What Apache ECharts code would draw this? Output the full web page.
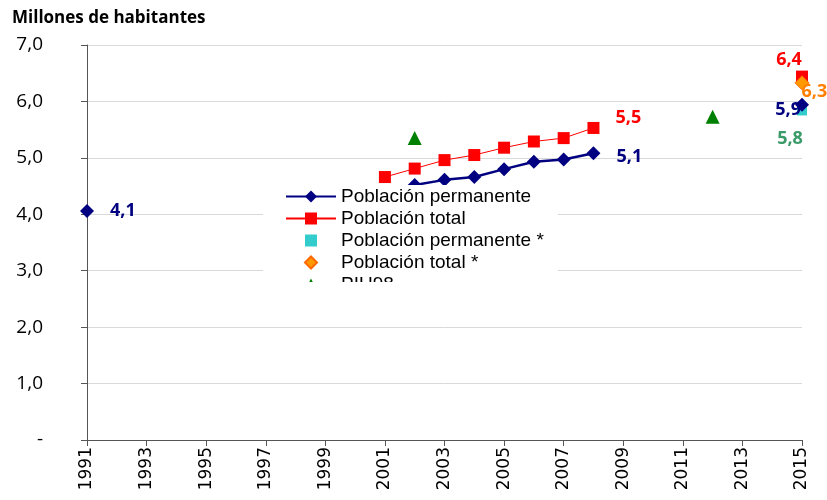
<!DOCTYPE html>
<html>
<head>
<meta charset="utf-8">
<script src="https://cdn.jsdelivr.net/npm/echarts@6/dist/echarts.min.js"></script>
<style>
  html, body { margin: 0; padding: 0; background: #fff; }
  #box { width: 827px; height: 500px; }
</style>
</head>
<body>
<div id="box"></div>
<script>
// años del eje X
const years = []
for (let y = 1991; y <= 2015; y++) years.push(String(y))

// valores (millones), null = sin dato
const permanente = [4.06, null, null, null, null, null, null, null, null, null, null,
  4.52, 4.61, 4.66, 4.80, 4.93, 4.97, 5.08, null, null, null, null, null, null, 5.94]
const total = [null, null, null, null, null, null, null, null, null, null, 4.66,
  4.81, 4.96, 5.05, 5.18, 5.29, 5.35, 5.53, null, null, null, null, null, null, 6.44]
const permanenteEst = [null, null, null, null, null, null, null, null, null, null, null,
  null, null, null, null, null, null, null, null, null, null, null, null, null, 5.84]
const totalEst = [null, null, null, null, null, null, null, null, null, null, null,
  null, null, null, null, null, null, null, null, null, null, null, null, null, 6.33]
const piu = [null, null, null, null, null, null, null, null, null, null, null,
  5.35, null, null, null, null, null, null, null, null, null, 5.73, null, null, null]

const yTicks = [0, 1, 2, 3, 4, 5, 6, 7]

const fmt = v => (Math.floor(v * 10 + 0.5) / 10).toFixed(1).replace('.', ',')
const lblFont = { fontFamily: 'Open Sans', fontWeight: 'bold', fontSize: 18 }

// etiquetas en puntos concretos
const withLabels = (arr, labels, color) => arr.map((v, i) => {
  if (v === null) return null
  const l = labels[i]
  if (!l) return v
  return { value: v, label: Object.assign({ show: true, color: color, formatter: fmt(v) }, lblFont, l) }
})

const myChart = echarts.init(document.getElementById('box'))

const option = {
  animation: false,
  title: {
    text: 'Millones de habitantes',
    left: 7, top: 5,
    textStyle: { fontFamily: 'Open Sans', fontWeight: 'bold', fontSize: 17, color: '#000' }
  },
  grid: { left: 87, right: 25, top: 45, bottom: 60 },
  legend: {
    orient: 'vertical',
    left: 263, top: 185,
    padding: [2, 14, 12, 22],
    itemGap: 3,
    itemWidth: 50, itemHeight: 15,
    backgroundColor: '#fff',
    textStyle: { fontFamily: 'Liberation Sans', fontSize: 19, color: '#000' },
    data: ['Población permanente', 'Población total', 'Población permanente *', 'Población total *', 'PIU98']
  },
  xAxis: {
    type: 'category',
    data: years,
    boundaryGap: false,
    axisLine: { lineStyle: { color: '#555' } },
    axisTick: { interval: 1, length: 6, lineStyle: { color: '#555' } },
    axisLabel: { interval: 1, rotate: 90, margin: 7, color: '#000', fontFamily: 'DejaVu Sans', fontSize: 17 },
    splitLine: { show: false }
  },
  yAxis: {
    type: 'value',
    min: yTicks[0], max: yTicks[yTicks.length - 1], interval: 1,
    axisLine: { show: true, lineStyle: { color: '#555' } },
    axisTick: { show: true, length: 6, lineStyle: { color: '#555' } },
    axisLabel: {
      margin: 44, color: '#000', fontFamily: 'Open Sans', fontSize: 19, align: 'right',
      formatter: v => v === 0 ? '-' : fmt(v)
    },
    splitLine: { lineStyle: { color: '#d9d9d9' } }
  },
  series: [
    {
      name: 'Población permanente', type: 'line',
      data: withLabels(permanente, {
        0: { position: 'right', distance: 16 },
        17: { position: 'right', distance: 16, offset: [0, 4] },
        24: { position: 'left', distance: -6, offset: [0, 5] }
      }, '#000080'),
      symbol: 'diamond', symbolSize: 14,
      itemStyle: { color: '#000080' },
      lineStyle: { color: '#000080', width: 2.5 },
      z: 3
    },
    {
      name: 'Población total', type: 'line',
      data: withLabels(total, {
        10: { position: 'bottom', distance: 2, offset: [-4, 0] },
        17: { position: 'right', distance: 16, offset: [0, -10] },
        24: { position: 'top', distance: 4, offset: [-13, 2] }
      }, '#ff0000'),
      symbol: 'rect', symbolSize: 12,
      itemStyle: { color: '#ff0000' },
      lineStyle: { color: '#ff0000', width: 1 },
      z: 2
    },
    {
      name: 'Población permanente *', type: 'line',
      data: withLabels(permanenteEst, {
        24: { position: 'bottom', distance: 14, offset: [-12, 0], color: '#3a9a68' }
      }, '#3a9a68'),
      symbol: 'rect', symbolSize: 10,
      itemStyle: { color: '#33cccc' },
      lineStyle: { width: 0 },
      z: 2
    },
    {
      name: 'Población total *', type: 'line',
      data: withLabels(totalEst, {
        24: { position: 'right', distance: -8, offset: [0, 9] }
      }, '#ff8000'),
      symbol: 'diamond', symbolSize: 14,
      itemStyle: { color: '#ff9900', borderColor: '#ff6600', borderWidth: 1 },
      lineStyle: { width: 0 },
      z: 4
    },
    {
      name: 'PIU98', type: 'line',
      data: piu,
      symbol: 'triangle', symbolSize: 14,
      itemStyle: { color: '#008000' },
      lineStyle: { width: 0 },
      z: 2
    }
  ],
  graphic: [
    { type: 'rect', z: 100, shape: { x: 262, y: 282, width: 300, height: 20 }, style: { fill: '#fff' } }
  ]
}

myChart.setOption(option)
</script>
</body>
</html>
